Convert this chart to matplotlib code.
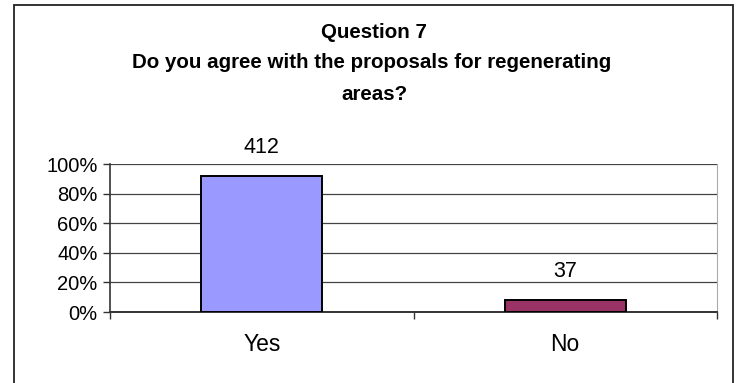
import matplotlib.pyplot as plt
from matplotlib.patches import Rectangle
import numpy as np

plt.rcParams['font.family'] = ['Liberation Sans', 'DejaVu Sans']

categories = ['Yes', 'No']
counts = [412, 37]
colors = ['#9999FF', '#993366']
yticks = [0, 20, 40, 60, 80, 100]

W, H = 741, 383
fig = plt.figure(figsize=(W / 100, H / 100), dpi=100)

# chart frame (bottom edge runs off the picture)
fig.patches.append(Rectangle((14 / W, -5 / H), (733 - 14) / W, (378 + 5) / H,
                             transform=fig.transFigure, fill=False,
                             edgecolor='#222222', linewidth=1.3))

ax = fig.add_axes([110 / W, (H - 312) / H, (717 - 110) / W, (312 - 164) / H])

total = sum(counts)
pct = [100 * c / total for c in counts]
x = np.arange(len(categories))
ax.bar(x, pct, width=0.4, color=colors, edgecolor='black', linewidth=1.4, zorder=3)

for xi, p, c in zip(x, pct, counts):
    ax.annotate(str(c), (xi, p), xytext=(0, 13), textcoords='offset points',
                ha='center', va='bottom', fontsize=15.5)

ax.set_xlim(-0.5, 1.5)
ax.set_ylim(0, 100)
ax.set_yticks(yticks)
ax.set_yticklabels([f'{v}%' for v in yticks], fontsize=14.5)
ax.yaxis.grid(True, color='#444444', linewidth=0.9, zorder=0)
ax.set_xticks(x)
ax.set_xticklabels(categories, fontsize=16.5)
ax.set_xticks([-0.5, 0.5, 1.5], minor=True)
ax.tick_params(axis='x', which='major', length=0, pad=15)
ax.tick_params(axis='x', which='minor', length=5, width=1, color='#333333')
ax.tick_params(axis='y', length=5, width=1, color='#333333', pad=4)

ax.spines['top'].set_visible(False)
ax.spines['right'].set_color('#aaaaaa')
ax.spines['left'].set_color('#333333')
ax.spines['bottom'].set_color('#333333')
ax.spines['left'].set_linewidth(1.2)
ax.spines['bottom'].set_linewidth(1.4)

title_kw = dict(ha='center', va='center', fontsize=14.8, fontweight='bold')
fig.text(374 / W, 1 - 33 / H, 'Question 7', **title_kw)
fig.text(372 / W, 1 - 63 / H, 'Do you agree with the proposals for regenerating', **title_kw)
fig.text(374 / W, 1 - 95 / H, 'areas?', **title_kw)

fig.savefig('out.png', dpi=100)
